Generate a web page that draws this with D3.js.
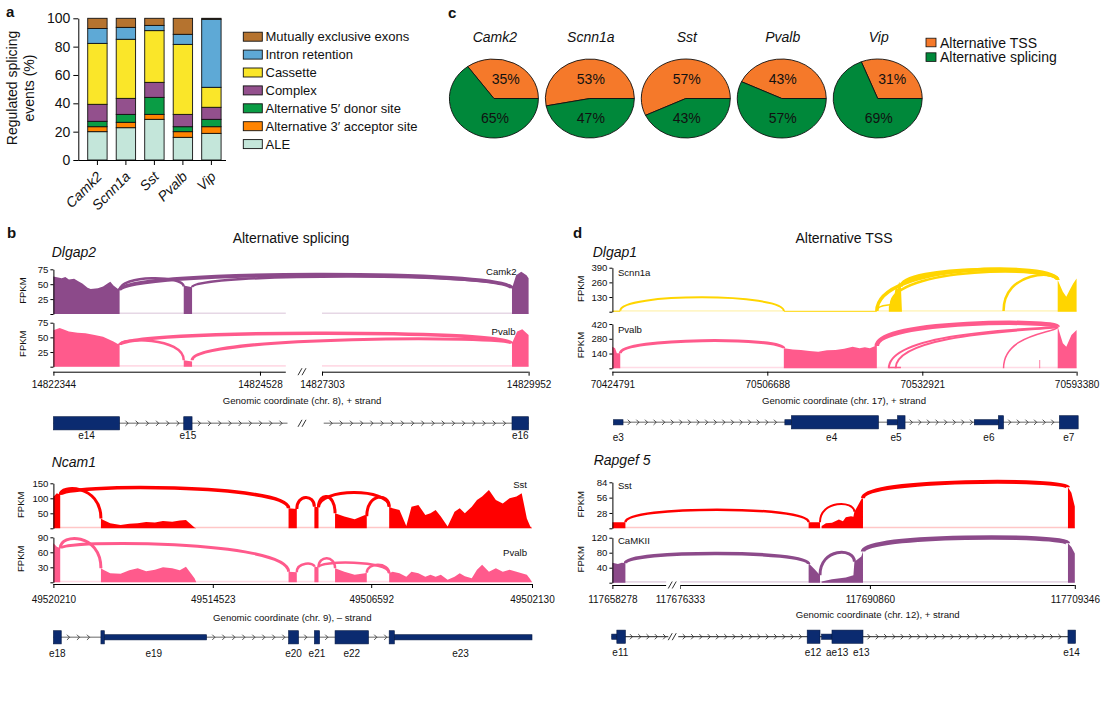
<!DOCTYPE html>
<html>
<head>
<meta charset="utf-8">
<script src="https://cdn.jsdelivr.net/npm/d3@7"></script>
<style>
  body { margin: 0; background: #fff; }
  svg text { font-family: "Liberation Sans", Arial, Helvetica, sans-serif; fill: #111; }
</style>
</head>
<body>
<svg id="fig" width="1111" height="715"></svg>
<script>
// ---------- panel a: regulated splicing events ----------
const cellTypes = ['Camk2', 'Scnn1a', 'Sst', 'Pvalb', 'Vip'];
const eventTypes = ['ALE', 'Alternative 3\u2032 acceptor site', 'Alternative 5\u2032 donor site',
  'Complex', 'Cassette', 'Intron retention', 'Mutually exclusive exons'];
const aleShare      = [20.0, 22.8, 28.7, 16.0, 18.8];
const alt3Share     = [3.5, 3.8, 3.5, 4.0, 4.7];
const alt5Share     = [3.8, 5.6, 12.0, 3.5, 5.2];
const complexShare  = [12.0, 11.3, 10.6, 8.7, 8.5];
const cassetteShare = [43.0, 41.7, 36.5, 49.4, 14.1];
const intronShare   = [10.5, 8.4, 3.7, 7.1, 48.0];
const mxeShare      = [7.2, 6.4, 5.0, 11.3, 0.7];
const eventColors = ['#C4E6DA', '#FF8400', '#0A9D45', '#93508D', '#FAE629', '#5EA9D6', '#B5732F'];

// ---------- panel c: TSS vs splicing ----------
const pieCells = ['Camk2', 'Scnn1a', 'Sst', 'Pvalb', 'Vip'];
const tssPct = [35, 53, 57, 43, 31];
const splicingPct = [65, 47, 43, 57, 69];
const pieColors = ['#F5792A', '#00883A'];

// ---------- panel b: Dlgap2 ----------
const dlgap2Ticks = [14822344, 14824528, 14827303, 14829952];
const dlgap2Breaks = [14822344, 14824801, 14827303, 14829952];
const dlgap2Exons = [[14822344, 14823044, 'cds'], [14823722, 14823810, 'cds'], [14829739, 14829952, 'cds']];
const dlgap2Labels = [[14822694, 'e14'], [14823766, 'e15'], [14829846, 'e16']];
const dlgap2Camk2Cov = [[14822344,0],[14822344,63],[14822432,60],[14822470,62],[14822508,58],[14822563,59],
  [14822607,55],[14822650,51],[14822705,44],[14822738,42],[14822814,43],[14822869,46],[14822924,52],
  [14822946,54],[14822979,48],[14823044,40],[14823044,0],
  [14823722,0],[14823722,48],[14823810,45],[14823810,0],
  [14829739,0],[14829739,43],[14829792,65],[14829858,71],[14829925,65],[14829952,60],[14829952,0]];
const dlgap2Camk2Arcs = [[14823044,14829739,40,43,66,40],[14823044,14823722,40,46,60,25],[14823810,14829739,45,43,63,25]];
const dlgap2PvalbCov = [[14822344,0],[14822344,62],[14822410,66],[14822460,63],[14822508,60],[14822600,58],
  [14822683,57],[14822780,54],[14822869,51],[14822979,43],[14823044,37],[14823044,0],
  [14823722,0],[14823722,11],[14823810,9],[14823810,0],
  [14829739,0],[14829739,40],[14829805,60],[14829871,64],[14829952,54],[14829952,0]];
const dlgap2PvalbArcs = [[14823044,14829739,37,40,57,35],[14823044,14823722,37,11,44,25],[14823810,14829739,11,40,46,30]];

// ---------- panel b: Ncam1 ----------
const ncam1Ticks = [49520210, 49514523, 49506592, 49502130];
const ncam1Exons = [[49520210,49519930,'cds'],[49518514,49518393,'cds'],[49518393,49514744,'utr'],
  [49510730,49510229,'cds'],[49509437,49509178,'cds'],[49508402,49506726,'cds'],
  [49506093,49505950,'cds'],[49505950,49502130,'utr']];
const ncam1Labels = [[49520070,'e18'],[49516629,'e19'],[49510480,'e20'],[49509308,'e21'],[49507564,'e22'],[49504112,'e23']];
const ncam1SstCov = [[49520210,0],[49520210,105],[49520088,117],[49519967,112],[49519967,0],
  [49518514,0],[49518514,33],[49518430,28],[49518183,17],[49517814,11],[49517500,15],[49517202,17],
  [49516900,21],[49516587,19],[49516300,24],[49515971,22],[49515700,26],[49515481,28],[49515175,3],[49515112,0],
  [49510730,0],[49510730,67],[49510317,64],[49510317,0],
  [49509437,0],[49509437,72],[49509230,70],[49509230,0],
  [49508402,0],[49508402,50],[49507936,39],[49507419,30],[49506902,44],[49506814,40],[49506814,0],
  [49506093,0],[49506093,72],[49505999,67],[49505807,61],[49505618,8],[49505474,72],[49505282,78],
  [49505090,44],[49504947,50],[49504804,61],[49504660,39],[49504471,6],[49504279,55],[49504136,67],
  [49503993,50],[49503801,72],[49503657,94],[49503514,106],[49503325,128],[49503133,94],[49502941,83],
  [49502752,100],[49502560,106],[49502416,117],[49502273,33],[49502178,6],[49502130,0]];
const ncam1SstArcs = [[49519967,49518514,112,33,128,30],[49519967,49510730,112,67,134,35],
  [49510317,49509437,64,72,103,30],[49509230,49508402,70,50,106,30],
  [49509230,49506093,70,72,119,30],[49506814,49506093,40,72,103,30]];
const ncam1PvalbCov = [[49520210,0],[49520210,78],[49520088,71],[49519967,68],[49519967,0],
  [49518514,0],[49518514,28],[49518430,25],[49518183,18],[49517814,17],[49517500,24],[49517202,28],
  [49516900,22],[49516587,25],[49516300,30],[49515971,28],[49515700,24],[49515481,31],[49515175,8],[49515112,0],
  [49510730,0],[49510730,21],[49510317,20],[49510317,0],
  [49509437,0],[49509437,31],[49509230,30],[49509230,0],
  [49508402,0],[49508402,28],[49507936,21],[49507419,15],[49506902,18],[49506814,19],[49506814,0],
  [49506093,0],[49506093,18],[49505999,21],[49505807,18],[49505618,11],[49505474,21],[49505282,18],
  [49505090,11],[49504947,15],[49504804,11],[49504660,15],[49504471,5],[49504279,11],[49504136,18],
  [49503993,12],[49503801,8],[49503657,25],[49503514,35],[49503325,21],[49503133,28],[49502941,21],
  [49502752,25],[49502560,21],[49502416,18],[49502273,15],[49502178,6],[49502130,0]];
const ncam1PvalbArcs = [[49519967,49518514,68,28,86,30],[49519967,49510730,68,21,75,30],
  [49510317,49509437,20,31,37,25],[49509230,49508402,30,28,48,25],
  [49509230,49506093,30,18,39,25],[49506814,49506093,19,18,35,25]];

// ---------- panel d: Dlgap1 ----------
const dlgap1Ticks = [70424791, 70506688, 70532921, 70593380];
const dlgap1Exons = [[70425337,70430415,'utr'],[70509661,70510763,'utr'],[70510763,70525507,'cds'],
  [70526976,70528725,'utr'],[70528725,70530002,'cds'],[70553293,70562729,'utr'],[70562729,70564754,'cds'],
  [70586624,70594000,'cds']];
const dlgap1Labels = [[70427876,'e3'],[70517584,'e4'],[70528489,'e5'],[70559024,'e6'],[70590312,'e7']];
const dlgap1Scnn1aCov = [[70424791,0],[70424791,9],[70428941,9],[70428941,0],
  [70509486,0],[70509486,6],[70525227,6],[70525227,0],
  [70527256,0],[70527256,44],[70527851,133],[70528100,110],[70528428,222],[70528700,200],[70529005,266],
  [70529303,222],[70529478,0],
  [70585976,0],[70585976,280],[70588001,177],[70589338,133],[70590674,192],[70592051,251],[70593380,295],[70593380,0]];
const dlgap1Scnn1aArcs = [[70428941,70509486,9,6,127,20],[70525227,70529000,6,44,60,15],
  [70525227,70585976,6,280,365,35],[70529303,70585976,222,280,372,35],
  [70527600,70585976,60,280,345,25],[70564754,70585976,6,280,310,25]];
const dlgap1PvalbCov = [[70424791,0],[70424791,205],[70426211,190],[70427139,142],[70428941,142],[70428941,0],
  [70509486,0],[70509486,190],[70511000,178],[70512390,174],[70513800,165],[70515311,158],[70516800,170],
  [70518231,174],[70519700,185],[70521135,205],[70522307,190],[70523200,200],[70524056,190],[70524930,212],
  [70525227,212],[70525227,0],
  [70527256,0],[70527256,15],[70529303,15],[70529303,0],
  [70578800,0],[70578800,79],[70579100,79],[70579100,0],
  [70585976,0],[70585976,395],[70588001,237],[70589338,205],[70591363,316],[70593380,363],[70593380,0]];
const dlgap1PvalbArcs = [[70428941,70509486,142,190,262,30],[70525227,70585976,212,395,420,45],
  [70527256,70585976,0,395,330,20],[70528400,70585976,0,395,320,20],[70564754,70585976,0,395,300,15]];

// ---------- panel d: Rapgef5 ----------
const rapgef5Ticks = [117658278, 117676333, 117690860, 117709346];
const rapgef5Breaks = [117658278, 117662410, 117676333, 117690860, 117709346];
const rapgef5Exons = [[117658225,117658618,'utr'],[117658618,117659273,'cds'],[117686068,117687046,'cds'],
  [117687173,117687962,'utr'],[117687962,117690331,'cds'],[117708730,117709410,'cds']];
const rapgef5Labels = [[117658886,'e11'],[117686510,'e12'],[117688357,'ae13'],[117690197,'e13'],[117709047,'e14']];
const rapgef5SstCov = [[117658278,0],[117658278,11],[117659273,11],[117659273,0],
  [117686178,0],[117686178,11],[117687046,11],[117687046,0],
  [117687173,0],[117687173,4],[117687500,9],[117687962,10],[117688491,16],[117688800,13],[117689020,20],
  [117689415,22],[117689600,21],[117689676,30],[117690205,53],[117690331,55],[117690331,0],
  [117708730,0],[117708730,75],[117709038,65],[117709346,40],[117709346,0]];
const rapgef5SstArcs = [[117659273,117686178,11,11,34,25],[117687046,117689676,11,30,44,20],[117690331,117708730,55,75,84,40]];
const rapgef5CamCov = [[117658278,0],[117658278,53],[117658700,50],[117659000,53],[117659273,52],[117659273,0],
  [117686178,0],[117686178,52],[117686652,35],[117687046,20],[117687046,0],
  [117687173,0],[117687173,3],[117687962,9],[117689020,14],[117689600,20],[117689676,56],[117690205,70],
  [117690331,83],[117690331,0],
  [117708730,0],[117708730,105],[117709038,95],[117709346,78],[117709346,0]];
const rapgef5CamArcs = [[117659273,117686178,52,50,78,35],[117687046,117689676,20,56,80,30],[117690331,117708730,83,105,120,45]];

const PURPLE = '#8C4A8A', PINK = '#FF5A8C', RED = '#FF0000', YELLOW = '#FFD500';

const svg = d3.select('#fig');

function label(g, x, y, txt, size, opts = {}) {
  return g.append('text').attr('x', x).attr('y', y).text(txt)
    .style('font-size', size + 'px')
    .style('font-weight', opts.bold ? 'bold' : null)
    .style('font-style', opts.italic ? 'italic' : null)
    .attr('text-anchor', opts.anchor || 'start');
}

// ================= panel a =================
{
  const ga = svg.append('g');
  const series = [aleShare, alt3Share, alt5Share, complexShare, cassetteShare, intronShare, mxeShare];
  const rows = cellTypes.map((c, i) => {
    const r = { cell: c };
    eventTypes.forEach((e, k) => { r[e] = series[k][i]; });
    return r;
  });
  const xa = d3.scaleBand().domain(cellTypes).range([78.6, 230.2]).padding(0.32);
  const ya = d3.scaleLinear().domain([0, 100]).range([160, 18.3]);
  const stacked = d3.stack().keys(eventTypes)(rows);

  ga.selectAll('g.layer').data(stacked).join('g').attr('class', 'layer')
    .attr('fill', (d, i) => eventColors[i])
    .selectAll('rect').data(d => d).join('rect')
    .attr('x', d => xa(d.data.cell))
    .attr('y', d => ya(d[1]))
    .attr('width', xa.bandwidth())
    .attr('height', d => ya(d[0]) - ya(d[1]))
    .attr('stroke', '#111').attr('stroke-width', 0.9);

  const yAx = ga.append('g').attr('transform', 'translate(78.3,0)')
    .call(d3.axisLeft(ya).tickValues([0, 20, 40, 60, 80, 100]).tickSize(5).tickPadding(3).tickSizeOuter(0));
  yAx.selectAll('text').style('font-size', '14px');

  const xAx = ga.append('g').attr('transform', 'translate(0,160)')
    .call(d3.axisBottom(xa).tickSize(5).tickSizeOuter(0));
  xAx.select('.domain').attr('d', 'M78.3,0.5H226');
  xAx.selectAll('text')
    .attr('x', 0).attr('y', 0).attr('dy', '0.35em')
    .attr('transform', 'translate(2,14) rotate(-45)')
    .style('text-anchor', 'end').style('font-size', '14px').style('font-style', 'italic');

  label(ga, 0, 0, 'Regulated splicing', 14, { anchor: 'middle' }).attr('transform', 'translate(17,88) rotate(-90)');
  label(ga, 0, 0, 'events (%)', 14, { anchor: 'middle' }).attr('transform', 'translate(34,88) rotate(-90)');
  label(ga, 6, 17, 'a', 15, { bold: true });

  const legendOrder = d3.range(eventTypes.length).reverse();
  legendOrder.forEach((k, row) => {
    const cy = 36.7 + row * 17.9;
    ga.append('rect').attr('x', 243.3).attr('y', cy - 4.5).attr('width', 19).attr('height', 9)
      .attr('fill', eventColors[k]).attr('stroke', '#111').attr('stroke-width', 0.9);
    label(ga, 265.5, cy + 4.6, eventTypes[k], 13);
  });
}

// ================= panel c =================
{
  const gc = svg.append('g');
  label(gc, 448, 18, 'c', 15, { bold: true });
  const xc = d3.scalePoint().domain(pieCells).range([493.9, 877.7]);
  const rx = 44.5, ry = 39.5, cy = 98.5;
  const pie = d3.pie().sort(null).startAngle(Math.PI / 2).endAngle(Math.PI / 2 - 2 * Math.PI);
  const arc = d3.arc().innerRadius(0).outerRadius(rx);
  pieCells.forEach((c, i) => {
    const cx = xc(c);
    const slices = pie([tssPct[i], splicingPct[i]]);
    const gp = gc.append('g').attr('transform', `translate(${cx},${cy}) scale(1,${ry / rx})`);
    gp.selectAll('path').data(slices).join('path')
      .attr('d', arc).attr('fill', (d, k) => pieColors[k])
      .attr('stroke', '#111').attr('stroke-width', 0.9).attr('vector-effect', 'non-scaling-stroke');
    label(gc, cx + 1, 41.5, c, 14, { anchor: 'middle', italic: true });
    const mid = (slices[0].startAngle + slices[0].endAngle) / 2;
    const s = Math.sin(mid);
    const ox = s > 0.3 ? 24 * s : 0;
    label(gc, cx + ox + 1, cy - 19, tssPct[i] + '%', 14, { anchor: 'middle' }).attr('dy', '0.35em');
    label(gc, cx + 1, cy + 19.3, splicingPct[i] + '%', 14, { anchor: 'middle' }).attr('dy', '0.35em');
  });
  ['Alternative TSS', 'Alternative splicing'].forEach((t, k) => {
    const y = 42.5 + k * 14.6;
    gc.append('rect').attr('x', 926).attr('y', y - 4.3).attr('width', 10).attr('height', 8.6)
      .attr('fill', pieColors[k]).attr('stroke', '#111').attr('stroke-width', 0.8);
    label(gc, 940, y + 5, t, 14);
  });
}

// ================= sashimi helpers =================
const juncWidth = d3.scaleLinear().domain([0, 10]).range([0, 1]);

function breakMark(g, bx, by) {
  g.append('rect').attr('x', bx - 7).attr('y', by - 5).attr('width', 14).attr('height', 10).attr('fill', '#fff');
  [[-5, -1], [-1, 3]].forEach(([a, b]) => {
    g.append('line').attr('x1', bx + a).attr('y1', by + 3.5).attr('x2', bx + b).attr('y2', by - 3.5)
      .attr('stroke', '#333').attr('stroke-width', 1);
  });
}

function drawTrack(g, x, t, segs) {
  const y = d3.scaleLinear().domain([0, t.max]).range([t.y0, t.y1]);
  segs.forEach(s => {
    g.append('line').attr('x1', x(s[0])).attr('x2', x(s[1])).attr('y1', y(0) - 0.8).attr('y2', y(0) - 0.8)
      .attr('stroke', t.color).attr('stroke-opacity', 0.22).attr('stroke-width', 1.6);
  });
  g.append('path').datum(t.cov)
    .attr('d', d3.area().x(d => x(d[0])).y0(y(0)).y1(d => y(d[1])))
    .attr('fill', t.color);
  g.selectAll(null).data(t.arcs).join('path')
    .attr('d', d => {
      const x1 = x(d[0]), x2 = x(d[1]);
      const c = (8 * d[4] - d[2] - d[3]) / 6;
      const p = d3.path();
      p.moveTo(x1, y(d[2]));
      p.bezierCurveTo(x1, y(c), x2, y(c), x2, y(d[3]));
      return p.toString();
    })
    .attr('fill', 'none').attr('stroke', t.color).attr('stroke-width', d => juncWidth(d[5]));
  const ax = g.append('g').attr('transform', `translate(${x.range()[0]},0)`)
    .call(d3.axisLeft(y).tickValues(t.ticks).tickSize(3).tickPadding(2).tickSizeOuter(0)
      .tickFormat(v => v === 0 ? '' : v));
  ax.selectAll('text').style('font-size', '9.6px');
  label(g, 0, 0, 'FPKM', 9.5, { anchor: 'middle' })
    .attr('transform', `translate(${t.fpkmX},${(t.y0 + t.y1) / 2 - 1}) rotate(-90)`);
  label(g, t.labelX, t.labelY, t.label, 9.6, { anchor: t.labelAnchor });
}

function drawLocus(L) {
  const g = svg.append('g');
  const x = d3.scaleLinear().domain(L.domain).range(L.range);
  L.tracks.forEach(t => drawTrack(g, x, t, L.baseSegs));

  const ax = g.append('g').attr('transform', `translate(0,${L.axisY})`)
    .call(d3.axisBottom(x).tickValues(L.ticks).tickFormat(d3.format('d')).tickSize(4)
      .tickPadding(L.tickPad).tickSizeOuter(0));
  ax.select('.domain').remove();
  ax.selectAll('text').style('font-size', '10px');
  L.axisSegs.forEach(s => ax.append('line').attr('x1', x(s[0])).attr('x2', x(s[1]))
    .attr('y1', 0.5).attr('y2', 0.5).attr('stroke', '#000'));
  if (L.breakAt) breakMark(ax, x(L.breakAt), 0);
  label(g, L.titleX, L.titleY, L.title, 9.6, { anchor: 'middle' });

  // gene model
  const gm = g.append('g');
  const parts = L.exons.map(e => {
    const a = x(e[0]), b = x(e[1]);
    return { x0: Math.min(a, b), x1: Math.max(a, b), kind: e[2] };
  }).sort((p, q) => p.x0 - q.x0);
  L.lineSegs.forEach(s => {
    const a = Math.min(x(s[0]), x(s[1])), b = Math.max(x(s[0]), x(s[1]));
    gm.append('line').attr('x1', a).attr('x2', b).attr('y1', L.geneY).attr('y2', L.geneY)
      .attr('stroke', L.lineColor).attr('stroke-width', L.lineWidth);
    // chevrons in the intron stretches between exon parts
    const gaps = [];
    let cur = a;
    parts.forEach(p => {
      if (p.x1 <= a || p.x0 >= b) return;
      if (p.x0 > cur) gaps.push([cur, p.x0]);
      cur = Math.max(cur, p.x1);
    });
    if (cur < b) gaps.push([cur, b]);
    gaps.forEach(([u, v]) => {
      for (let cx = u + L.chevStep * 0.7; cx < v - 3; cx += L.chevStep) {
        gm.append('path').attr('d', `M${cx - 1.3},${L.geneY - 2.6}L${cx + 1.3},${L.geneY}L${cx - 1.3},${L.geneY + 2.6}`)
          .attr('fill', 'none').attr('stroke', '#222').attr('stroke-width', 0.8);
      }
    });
  });
  if (L.breakAt) breakMark(gm, x(L.breakAt), L.geneY);
  gm.selectAll('rect').data(parts).join('rect')
    .attr('x', p => p.x0).attr('width', p => Math.max(1, p.x1 - p.x0))
    .attr('y', p => L.geneY - (p.kind === 'cds' ? 6.6 : 2.6))
    .attr('height', p => p.kind === 'cds' ? 13.2 : 5.2)
    .attr('fill', '#0B2B70').attr('stroke', '#061a45').attr('stroke-width', 0.6);
  L.labels.forEach(([pos, txt]) => label(gm, x(pos), L.labelY, txt, 10, { anchor: 'middle' }));

  label(g, L.nameX, L.nameY, L.name, 14, { italic: true });
}

// ================= panel b =================
label(svg, 7, 238, 'b', 15, { bold: true });
label(svg, 291, 243, 'Alternative splicing', 14, { anchor: 'middle' });

const dlgap2Segs = [[dlgap2Breaks[0], dlgap2Breaks[1]], [dlgap2Breaks[2], dlgap2Breaks[3]]];
drawLocus({
  name: 'Dlgap2', nameX: 51.7, nameY: 257,
  domain: dlgap2Breaks, range: [53.4, 285.8, 322, 528.6],
  ticks: dlgap2Ticks, axisY: 371.7, tickPad: 5,
  axisSegs: dlgap2Segs, baseSegs: dlgap2Segs,
  breakAt: 14825990,
  title: 'Genomic coordinate (chr. 8), + strand', titleX: 302, titleY: 403.5,
  exons: dlgap2Exons, labels: dlgap2Labels, geneY: 423.3, labelY: 438.8,
  lineSegs: [[14822344, 14824918], [14827325, 14829952]], lineColor: '#9a9a9a', lineWidth: 1.6, chevStep: 10.2,
  tracks: [
    { label: 'Camk2', color: PURPLE, max: 75, ticks: [0, 25, 50, 75], y0: 314, y1: 269.3,
      cov: dlgap2Camk2Cov, arcs: dlgap2Camk2Arcs, labelX: 516.5, labelY: 275, labelAnchor: 'end', fpkmX: 25.5 },
    { label: 'Pvalb', color: PINK, max: 75, ticks: [0, 25, 50, 75], y0: 366.7, y1: 322.7,
      cov: dlgap2PvalbCov, arcs: dlgap2PvalbArcs, labelX: 515.5, labelY: 335, labelAnchor: 'end', fpkmX: 25.5 }
  ]
});

const ncam1Segs = [[ncam1Ticks[0], ncam1Ticks[3]]];
drawLocus({
  name: 'Ncam1', nameX: 51.7, nameY: 467,
  domain: ncam1Ticks, range: [53.4, 212.8, 371.2, 532],
  ticks: ncam1Ticks, axisY: 584, tickPad: 7.5,
  axisSegs: ncam1Segs, baseSegs: ncam1Segs,
  title: 'Genomic coordinate (chr. 9), \u2013 strand', titleX: 292.3, titleY: 621,
  exons: ncam1Exons, labels: ncam1Labels, geneY: 637.3, labelY: 656.6,
  lineSegs: [[49520210, 49502130]], lineColor: '#9a9a9a', lineWidth: 1.6, chevStep: 10,
  tracks: [
    { label: 'Sst', color: RED, max: 150, ticks: [0, 50, 100, 150], y0: 528.3, y1: 483.3,
      cov: ncam1SstCov, arcs: ncam1SstArcs, labelX: 527, labelY: 488, labelAnchor: 'end', fpkmX: 23.5 },
    { label: 'Pvalb', color: PINK, max: 90, ticks: [0, 30, 60, 90], y0: 582.3, y1: 537.3,
      cov: ncam1PvalbCov, arcs: ncam1PvalbArcs, labelX: 527, labelY: 556, labelAnchor: 'end', fpkmX: 23.5 }
  ]
});

// ================= panel d =================
label(svg, 573, 238, 'd', 15, { bold: true });
label(svg, 844, 243, 'Alternative TSS', 14, { anchor: 'middle' });

const dlgap1Segs = [[dlgap1Ticks[0], dlgap1Ticks[3]]];
drawLocus({
  name: 'Dlgap1', nameX: 592.7, nameY: 257,
  domain: dlgap1Ticks, range: [612.4, 767.3, 922.3, 1076.6],
  ticks: dlgap1Ticks, axisY: 371.7, tickPad: 5,
  axisSegs: dlgap1Segs, baseSegs: dlgap1Segs,
  title: 'Genomic coordinate (chr. 17), + strand', titleX: 844, titleY: 403.5,
  exons: dlgap1Exons, labels: dlgap1Labels, geneY: 422.3, labelY: 440.5,
  lineSegs: [[70425337, 70593380]], lineColor: '#9a9a9a', lineWidth: 1.6, chevStep: 8.6,
  tracks: [
    { label: 'Scnn1a', color: YELLOW, max: 390, ticks: [0, 130, 260, 390], y0: 311.7, y1: 267.7,
      cov: dlgap1Scnn1aCov, arcs: dlgap1Scnn1aArcs, labelX: 617.9, labelY: 276, labelAnchor: 'start', fpkmX: 583.5 },
    { label: 'Pvalb', color: PINK, max: 420, ticks: [0, 140, 280, 420], y0: 368.3, y1: 324,
      cov: dlgap1PvalbCov, arcs: dlgap1PvalbArcs, labelX: 617.9, labelY: 332.5, labelAnchor: 'start', fpkmX: 583.5 }
  ]
});

drawLocus({
  name: 'Rapgef 5', nameX: 593.7, nameY: 465,
  domain: rapgef5Breaks, range: [612.4, 666.4, 679.8, 869.9, 1074.8],
  ticks: rapgef5Ticks, axisY: 585, tickPad: 6.5,
  axisSegs: [[rapgef5Breaks[0], rapgef5Breaks[1]], [rapgef5Breaks[2], rapgef5Breaks[4]]],
  baseSegs: [[rapgef5Breaks[0], rapgef5Breaks[4]]],
  breakAt: 117669500,
  title: 'Genomic coordinate (chr. 12), + strand', titleX: 877.7, titleY: 617.5,
  exons: rapgef5Exons, labels: rapgef5Labels, geneY: 636.7, labelY: 656.3,
  lineSegs: [[117658225, 117664445], [117674726, 117709346]], lineColor: '#222', lineWidth: 1, chevStep: 8.3,
  tracks: [
    { label: 'Sst', color: RED, max: 84, ticks: [0, 28, 56, 84], y0: 528.3, y1: 482.3,
      cov: rapgef5SstCov, arcs: rapgef5SstArcs, labelX: 617.9, labelY: 489, labelAnchor: 'start', fpkmX: 583.5 },
    { label: 'CaMKII', color: PURPLE, max: 120, ticks: [0, 40, 80, 120], y0: 582.7, y1: 537.7,
      cov: rapgef5CamCov, arcs: rapgef5CamArcs, labelX: 617.9, labelY: 543.5, labelAnchor: 'start', fpkmX: 583.5 }
  ]
});
</script>
</body>
</html>
